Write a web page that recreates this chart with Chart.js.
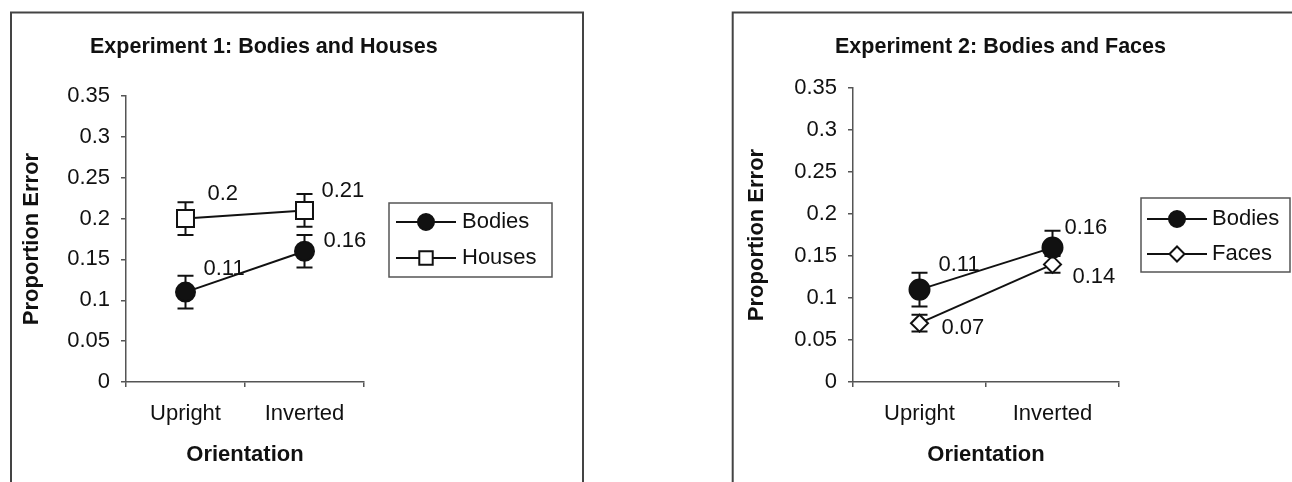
<!DOCTYPE html>
<html>
<head>
<meta charset="utf-8">
<script src="https://cdn.jsdelivr.net/npm/chart.js@4/dist/chart.umd.min.js"></script>
<style>
  html, body { margin: 0; padding: 0; background: #fff; }
  body { width: 1292px; height: 482px; position: relative; overflow: hidden; }
  .panel { position: absolute; top: 0; }
</style>
</head>
<body>
<div class="panel" style="left:0px"><canvas id="exp1" width="650" height="482"></canvas></div>
<div class="panel" style="left:660px"><canvas id="exp2" width="632" height="482"></canvas></div>
<script>
const categories = ["Upright", "Inverted"];
const yTickLabels = ["0", "0.05", "0.1", "0.15", "0.2", "0.25", "0.3", "0.35"];

const exp1Bodies = [0.11, 0.16];
const exp1BodiesErr = [0.02, 0.02];
const exp1Houses = [0.2, 0.21];
const exp1HousesErr = [0.02, 0.02];

const exp2Bodies = [0.11, 0.16];
const exp2BodiesErr = [0.02, 0.02];
const exp2Faces = [0.07, 0.14];
const exp2FacesErr = [0.01, 0.01];

const FONT = "'Liberation Sans', Arial, Helvetica, sans-serif";
const INK = "#111";
const AXIS = "#555";
const FRAME = "#444";
const CAP = 8;
const H = 482;

const panels = [
  {
    id: "exp1",
    width: 650,
    title: "Experiment 1: Bodies and Houses",
    titlePos: { x: 90, y: 53 },
    frame: { left: 11, top: 12.5, right: 583 },
    area: { left: 126, top: 96, right: 364, bottom: 382 },
    padLeft: 0,
    yTitlePad: 19,
    legend: { left: 389, top: 203, right: 552, bottom: 277, lineX: [396, 456], textX: 462, rowsY: [222, 258] },
    series: [
      { label: "Bodies", values: exp1Bodies, errors: exp1BodiesErr, pointStyle: "circle", radius: 9.5, fill: INK, legendRadius: 8, labelOffsets: [[18, -23], [19, -10]] },
      { label: "Houses", values: exp1Houses, errors: exp1HousesErr, pointStyle: "rect", radius: 12, fill: "#fff", legendRadius: 9.5, labelOffsets: [[22, -25], [17, -19]] },
    ],
  },
  {
    id: "exp2",
    width: 632,
    title: "Experiment 2: Bodies and Faces",
    titlePos: { x: 175, y: 53 },
    frame: { left: 72.7, top: 12.5, right: null },
    area: { left: 193, top: 88, right: 459, bottom: 382 },
    padLeft: 60,
    yTitlePad: 24,
    legend: { left: 481, top: 198, right: 630, bottom: 272, lineX: [487, 547], textX: 552, rowsY: [219, 254] },
    series: [
      { label: "Bodies", values: exp2Bodies, errors: exp2BodiesErr, pointStyle: "circle", radius: 10, fill: INK, legendRadius: 8, labelOffsets: [[19, -25], [12, -20]] },
      { label: "Faces", values: exp2Faces, errors: exp2FacesErr, pointStyle: "rectRot", radius: 8.5, fill: "#fff", legendRadius: 7.5, labelOffsets: [[22, 5], [20, 13]] },
    ],
  },
];

// same shapes chart.js uses for its points, for the legend swatches
const drawMarker = (ctx, style, r, x, y, fill) => {
  ctx.beginPath();
  if (style === "circle") {
    ctx.arc(x, y, r, 0, Math.PI * 2);
  } else if (style === "rect") {
    const s = Math.SQRT1_2 * r;
    ctx.rect(x - s, y - s, 2 * s, 2 * s);
  } else {
    ctx.moveTo(x - r, y);
    ctx.lineTo(x, y - r);
    ctx.lineTo(x + r, y);
    ctx.lineTo(x, y + r);
    ctx.closePath();
  }
  ctx.fillStyle = fill;
  ctx.fill();
  ctx.lineWidth = 2;
  ctx.strokeStyle = INK;
  ctx.stroke();
};

const errorBars = {
  id: "errorBars",
  beforeDatasetsDraw(chart) {
    const { ctx } = chart;
    const yScale = chart.scales.y;
    ctx.save();
    ctx.strokeStyle = INK;
    ctx.lineWidth = 2;
    chart.data.datasets.forEach((ds, i) => {
      chart.getDatasetMeta(i).data.forEach((pt, j) => {
        const hi = yScale.getPixelForValue(ds.data[j] + ds.errors[j]);
        const lo = yScale.getPixelForValue(ds.data[j] - ds.errors[j]);
        ctx.beginPath();
        ctx.moveTo(pt.x, hi);
        ctx.lineTo(pt.x, lo);
        ctx.moveTo(pt.x - CAP, hi);
        ctx.lineTo(pt.x + CAP, hi);
        ctx.moveTo(pt.x - CAP, lo);
        ctx.lineTo(pt.x + CAP, lo);
        ctx.stroke();
      });
    });
    ctx.restore();
  },
};

const panelDecor = {
  id: "panelDecor",
  afterDraw(chart, args, opts) {
    const { ctx } = chart;
    const p = opts.panel;
    ctx.save();

    // frame, open at the bottom (and right for the second panel)
    ctx.strokeStyle = FRAME;
    ctx.lineWidth = 2;
    ctx.beginPath();
    ctx.moveTo(p.frame.left, H + 5);
    ctx.lineTo(p.frame.left, p.frame.top);
    if (p.frame.right !== null) {
      ctx.lineTo(p.frame.right, p.frame.top);
      ctx.lineTo(p.frame.right, H + 5);
    } else {
      ctx.lineTo(chart.width + 5, p.frame.top);
    }
    ctx.stroke();

    ctx.fillStyle = INK;
    ctx.font = "bold 21.5px " + FONT;
    ctx.textAlign = "left";
    ctx.textBaseline = "alphabetic";
    ctx.fillText(p.title, p.titlePos.x, p.titlePos.y);

    // value labels next to each point
    ctx.font = "22px " + FONT;
    ctx.textBaseline = "middle";
    chart.data.datasets.forEach((ds, i) => {
      const offs = p.series[i].labelOffsets;
      chart.getDatasetMeta(i).data.forEach((pt, j) => {
        ctx.fillText(String(ds.data[j]), pt.x + offs[j][0], pt.y + offs[j][1]);
      });
    });

    // legend
    const lg = p.legend;
    ctx.strokeStyle = AXIS;
    ctx.lineWidth = 1.5;
    ctx.strokeRect(lg.left, lg.top, lg.right - lg.left, lg.bottom - lg.top);
    chart.data.datasets.forEach((ds, i) => {
      const y = lg.rowsY[i];
      ctx.strokeStyle = INK;
      ctx.lineWidth = 2;
      ctx.beginPath();
      ctx.moveTo(lg.lineX[0], y);
      ctx.lineTo(lg.lineX[1], y);
      ctx.stroke();
      drawMarker(ctx, ds.pointStyle, p.series[i].legendRadius, (lg.lineX[0] + lg.lineX[1]) / 2, y, ds.pointBackgroundColor);
      ctx.fillStyle = INK;
      ctx.fillText(ds.label, lg.textX, y);
    });

    ctx.restore();
  },
};

const makeChart = (p) => {
  const datasets = p.series.map((s) => ({
    label: s.label,
    data: s.values,
    errors: s.errors,
    borderColor: INK,
    borderWidth: 2,
    pointStyle: s.pointStyle,
    pointRadius: s.radius,
    pointHoverRadius: s.radius,
    pointBackgroundColor: s.fill,
    pointBorderColor: INK,
    pointBorderWidth: 2,
    tension: 0,
    fill: false,
    clip: false,
  }));

  return new Chart(document.getElementById(p.id), {
    type: "line",
    data: { labels: categories, datasets },
    plugins: [errorBars, panelDecor],
    options: {
      responsive: false,
      animation: false,
      events: [],
      layout: {
        padding: { left: p.padLeft, top: p.area.top, right: p.width - p.area.right, bottom: 0 },
      },
      plugins: {
        legend: { display: false },
        title: { display: false },
        tooltip: { enabled: false },
        panelDecor: { panel: p },
      },
      scales: {
        x: {
          type: "category",
          offset: true,
          grid: { display: true, offset: true, drawOnChartArea: false, drawTicks: true, tickLength: 5, color: AXIS, lineWidth: 1.5 },
          border: { display: true, color: AXIS, width: 1.5 },
          ticks: { color: INK, font: { family: FONT, size: 22 }, padding: 14, maxRotation: 0, autoSkip: false },
          title: {
            display: true,
            text: "Orientation",
            color: INK,
            font: { family: FONT, size: 22, weight: "bold" },
            padding: { top: 0, bottom: 14 },
          },
          afterFit: (scale) => {
            scale.height = H - p.area.bottom;
          },
        },
        y: {
          min: 0,
          max: 0.35,
          grid: { display: true, drawOnChartArea: false, drawTicks: true, tickLength: 5, color: AXIS, lineWidth: 1.5 },
          border: { display: true, color: AXIS, width: 1.5 },
          ticks: {
            stepSize: 0.05,
            color: INK,
            font: { family: FONT, size: 22 },
            padding: 11,
            callback: (v, i) => yTickLabels[i],
          },
          title: {
            display: true,
            text: "Proportion Error",
            color: INK,
            font: { family: FONT, size: 22, weight: "bold" },
            padding: { top: p.yTitlePad, bottom: 0 },
          },
          afterFit: (scale) => {
            scale.width = p.area.left - p.padLeft;
          },
        },
      },
    },
  });
};

panels.forEach(makeChart);
</script>
</body>
</html>
